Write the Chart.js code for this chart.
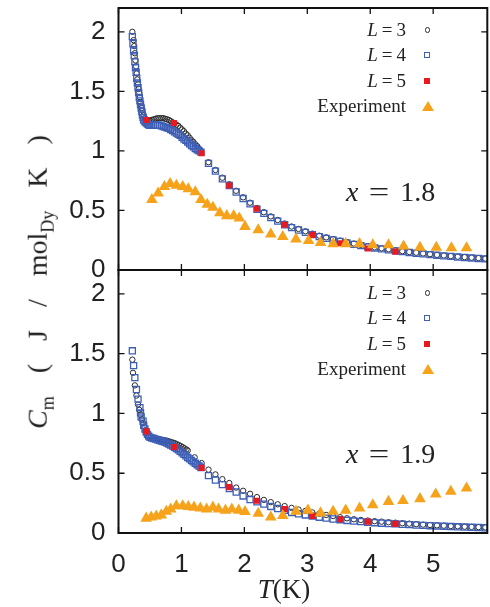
<!DOCTYPE html>
<html><head><meta charset="utf-8">
<script src="https://cdn.jsdelivr.net/npm/chart.js@4/dist/chart.umd.min.js"></script>
<style>
html,body{margin:0;padding:0;background:#fff;overflow:hidden;width:490px;height:607px;}
#wrap{position:relative;width:490px;height:607px;overflow:hidden;}
#wrap canvas{position:absolute;left:0;}
.t{position:absolute;font-family:"Liberation Serif","Times New Roman",serif;color:#222;white-space:nowrap;}
.leg{right:84px;font-size:19px;line-height:20px;height:20px;text-align:right;}
.le{display:inline-block;margin:0 4px;}
.mk{position:absolute;box-sizing:border-box;}
.ann{font-size:28px;line-height:30px;height:30px;}
.eq{display:inline-block;transform:scaleX(1.3);margin:0 13px;}
</style></head>
<body><div id="wrap">
<canvas id="cTop" width="494" height="280" style="top:0px;width:494px;height:280px"></canvas>
<canvas id="cBot" width="494" height="345" style="top:262px;width:494px;height:345px"></canvas>

<div class="t leg" style="top:20px"><i>L</i><span class="le">=</span>3</div>
<div class="t leg" style="top:45px"><i>L</i><span class="le">=</span>4</div>
<div class="t leg" style="top:71px"><i>L</i><span class="le">=</span>5</div>
<div class="t leg" style="top:96px">Experiment</div>
<div class="mk" style="left:424.5px;top:27px;width:5.5px;height:5.5px;border:1px solid #2b2b2b;border-radius:50%"></div>
<div class="mk" style="left:424.3px;top:52px;width:6px;height:6px;border:1.3px solid #3f5fb5"></div>
<div class="mk" style="left:424.3px;top:78px;width:6px;height:6px;background:#e8191f"></div>
<div class="mk" style="left:421.5px;top:101px;width:0;height:0;border-left:6px solid transparent;border-right:6px solid transparent;border-bottom:10px solid #f6a21b"></div>

<div class="t leg" style="top:283px"><i>L</i><span class="le">=</span>3</div>
<div class="t leg" style="top:308px"><i>L</i><span class="le">=</span>4</div>
<div class="t leg" style="top:334px"><i>L</i><span class="le">=</span>5</div>
<div class="t leg" style="top:359px">Experiment</div>
<div class="mk" style="left:424.5px;top:290px;width:5.5px;height:5.5px;border:1px solid #2b2b2b;border-radius:50%"></div>
<div class="mk" style="left:424.3px;top:315px;width:6px;height:6px;border:1.3px solid #3f5fb5"></div>
<div class="mk" style="left:424.3px;top:341px;width:6px;height:6px;background:#e8191f"></div>
<div class="mk" style="left:421.5px;top:364px;width:0;height:0;border-left:6px solid transparent;border-right:6px solid transparent;border-bottom:10px solid #f6a21b"></div>

<div class="t ann" style="left:346px;top:177px"><i>x</i><span class="eq">=</span>1.8</div>
<div class="t ann" style="left:346px;top:439px"><i>x</i><span class="eq">=</span>1.9</div>

<div class="t" style="left:284px;top:589px;font-size:27px;transform:translate(-50%,-50%)"><i>T</i>(K)</div>
<div class="t" style="left:40px;top:282px;font-size:28px;word-spacing:16px;transform:translate(-50%,-50%) rotate(-90deg)"><i>C</i><sub style="font-size:18px">m</sub> ( J / mol<sub style="font-size:18px">Dy</sub> K )</div>
</div>
<script>
// ---------- data ----------
const tailT = [1.43,1.54,1.65,1.76,1.87,1.98,2.09,2.20,2.31,2.42,2.53,2.64,2.75,2.86,2.97,3.08,3.19,3.30,3.41,3.52,3.63,3.74,3.85,3.96,4.07,4.18,4.29,4.40,4.51,4.62,4.73,4.84,4.95,5.06,5.17,5.28,5.39,5.50,5.61,5.72,5.83];
const l5T = [0.44,0.88,1.32,1.76,2.20,2.64,3.08,3.52,3.96,4.40];

// top panel, x = 1.8
const topL3DenseT = [0.22,0.24,0.25,0.26,0.27,0.28,0.29,0.30,0.31,0.32,0.33,0.34,0.35,0.36,0.37,0.38,0.40,0.42,0.44,0.46,0.48,0.50,0.53,0.56,0.59,0.62,0.65,0.68,0.71,0.74,0.77,0.80,0.83,0.86,0.89,0.92,0.95,0.98,1.01,1.04,1.07,1.10,1.13,1.16,1.19,1.22,1.25,1.28,1.31];
const topL3DenseC = [2.00,1.93,1.88,1.82,1.76,1.71,1.65,1.60,1.56,1.52,1.49,1.45,1.41,1.38,1.36,1.34,1.30,1.275,1.26,1.255,1.255,1.255,1.26,1.265,1.27,1.275,1.275,1.275,1.275,1.27,1.265,1.26,1.25,1.24,1.23,1.22,1.21,1.195,1.18,1.165,1.145,1.13,1.11,1.09,1.075,1.055,1.04,1.02,1.00];
const topL3TailC = [0.905,0.84,0.775,0.72,0.665,0.61,0.565,0.52,0.485,0.45,0.42,0.39,0.365,0.345,0.325,0.305,0.288,0.274,0.26,0.247,0.234,0.222,0.211,0.2,0.19,0.182,0.174,0.166,0.158,0.151,0.145,0.139,0.133,0.127,0.122,0.117,0.112,0.108,0.104,0.1,0.096];
const topL4DenseT = [0.22,0.23,0.24,0.25,0.26,0.27,0.28,0.29,0.30,0.31,0.32,0.33,0.34,0.35,0.36,0.37,0.38,0.39,0.40,0.42,0.44,0.46,0.48,0.50,0.53,0.56,0.59,0.62,0.65,0.68,0.71,0.74,0.77,0.80,0.83,0.86,0.89,0.92,0.95,0.98,1.01,1.04,1.07,1.10,1.13,1.16,1.19,1.22,1.25,1.28,1.31];
const topL4DenseC = [1.96,1.90,1.84,1.80,1.75,1.70,1.66,1.61,1.57,1.53,1.49,1.45,1.42,1.39,1.36,1.33,1.30,1.28,1.26,1.245,1.235,1.225,1.22,1.215,1.215,1.215,1.215,1.215,1.215,1.21,1.205,1.20,1.195,1.19,1.18,1.17,1.16,1.15,1.14,1.13,1.115,1.10,1.09,1.075,1.06,1.045,1.035,1.02,1.01,1.00,0.99];
const topL4TailC = [0.895,0.83,0.765,0.71,0.655,0.60,0.555,0.51,0.475,0.44,0.41,0.38,0.356,0.336,0.316,0.297,0.28,0.266,0.252,0.24,0.227,0.215,0.205,0.194,0.185,0.177,0.169,0.161,0.154,0.147,0.141,0.135,0.129,0.124,0.119,0.114,0.109,0.105,0.101,0.097,0.093];
const topL5C = [1.26,1.235,0.98,0.71,0.515,0.38,0.295,0.224,0.18,0.154];
const topExpT = [0.53,0.63,0.73,0.82,0.92,1.02,1.11,1.22,1.31,1.41,1.50,1.61,1.72,1.83,1.92,2.01,2.22,2.42,2.61,2.82,3.02,3.21,3.41,3.61,3.83,4.04,4.29,4.53,4.79,5.05,5.29,5.53];
const topExpC = [0.59,0.645,0.70,0.725,0.71,0.70,0.68,0.655,0.59,0.55,0.525,0.48,0.455,0.455,0.435,0.365,0.336,0.30,0.28,0.258,0.246,0.23,0.22,0.22,0.22,0.21,0.21,0.20,0.19,0.19,0.185,0.185];

// bottom panel, x = 1.9
const botL3DenseT = [0.22,0.23,0.26,0.285,0.31,0.33,0.35,0.37,0.39,0.41,0.43,0.45,0.48,0.51,0.54,0.57,0.60,0.63,0.66,0.69,0.72,0.75,0.78,0.81,0.84,0.87,0.90,0.93,0.96,0.99,1.02,1.05,1.08,1.10,1.21,1.32];
const botL3DenseC = [1.45,1.34,1.235,1.15,1.075,1.03,0.99,0.95,0.92,0.89,0.86,0.84,0.81,0.80,0.795,0.79,0.788,0.785,0.782,0.78,0.777,0.774,0.77,0.765,0.76,0.755,0.75,0.742,0.735,0.727,0.718,0.708,0.698,0.69,0.633,0.585];
const botL3TailC = [0.53,0.49,0.45,0.418,0.38,0.353,0.328,0.30,0.277,0.258,0.24,0.225,0.21,0.196,0.185,0.172,0.161,0.151,0.142,0.132,0.123,0.115,0.109,0.104,0.099,0.095,0.09,0.086,0.082,0.078,0.074,0.07,0.067,0.064,0.061,0.058,0.056,0.053,0.051,0.049,0.047];
const botL4DenseT = [0.22,0.24,0.26,0.285,0.31,0.34,0.35,0.36,0.39,0.40,0.42,0.44,0.46,0.48,0.50,0.53,0.56,0.59,0.62,0.65,0.68,0.71,0.74,0.77,0.80,0.83,0.86,0.89,0.92,0.95,0.98,1.01,1.04,1.07,1.10,1.13,1.16,1.19,1.22,1.25,1.28,1.31];
const botL4DenseC = [1.524,1.40,1.30,1.20,1.12,1.048,1.005,0.97,0.935,0.90,0.87,0.845,0.825,0.81,0.80,0.795,0.79,0.785,0.78,0.775,0.77,0.765,0.76,0.752,0.745,0.736,0.727,0.717,0.706,0.695,0.683,0.671,0.658,0.645,0.632,0.62,0.607,0.595,0.583,0.571,0.56,0.548];
const botL4TailC = [0.48,0.443,0.405,0.372,0.343,0.31,0.28,0.26,0.242,0.222,0.205,0.19,0.172,0.161,0.151,0.141,0.132,0.124,0.117,0.111,0.105,0.1,0.095,0.09,0.086,0.082,0.079,0.076,0.073,0.07,0.067,0.064,0.061,0.059,0.057,0.054,0.052,0.05,0.048,0.046,0.044];
const botL5C = [0.85,0.72,0.545,0.384,0.27,0.20,0.143,0.115,0.095,0.076];
const botExpT = [0.44,0.52,0.60,0.68,0.76,0.83,0.92,1.02,1.11,1.20,1.30,1.40,1.50,1.59,1.70,1.80,1.91,2.01,2.22,2.42,2.61,2.82,3.01,3.21,3.41,3.61,3.83,4.04,4.29,4.52,4.79,5.04,5.28,5.53];
const botExpC = [0.123,0.132,0.14,0.15,0.18,0.20,0.227,0.227,0.22,0.215,0.208,0.20,0.215,0.20,0.19,0.20,0.19,0.178,0.163,0.133,0.145,0.18,0.19,0.167,0.18,0.19,0.207,0.235,0.263,0.27,0.286,0.325,0.347,0.375];

const xTicks = [0,1,2,3,4,5];
const yTicks = [0,0.5,1,1.5,2];
const X_MAX = 5.86, Y_MAX = 2.2;

// ---------- helpers ----------
const pts = (T, C) => T.map((t, i) => ({x: t, y: C[i]}));

function datasets(l3, l4, l5, ex) {
  return [
    {label:'Experiment', data: ex, pointStyle:'triangle', pointRadius:6.7, backgroundColor:'#f6a21b', borderColor:'#f6a21b', borderWidth:0, order:0},
    {label:'L = 5', data: l5, pointStyle:'rect', pointRadius:4.3, backgroundColor:'#e8191f', borderColor:'#e8191f', borderWidth:0, order:1},
    {label:'L = 4', data: l4, pointStyle:'rect', pointRadius:4.3, backgroundColor:'rgba(255,255,255,0)', borderColor:'#3f5fb5', borderWidth:1.3, order:2},
    {label:'L = 3', data: l3, pointStyle:'circle', pointRadius:2.7, backgroundColor:'rgba(255,255,255,0)', borderColor:'#2b2b2b', borderWidth:1, order:3}
  ];
}

const framePlugin = {
  id: 'frame',
  afterDatasetsDraw(chart) {
    const {ctx, chartArea: a, scales} = chart;
    ctx.save();
    ctx.strokeStyle = '#111';
    ctx.lineWidth = 1.3;
    const tl = 6;
    scales.x.ticks.forEach(t => {
      const px = scales.x.getPixelForValue(t.value);
      ctx.beginPath();
      ctx.moveTo(px, a.top); ctx.lineTo(px, a.top + tl);
      ctx.moveTo(px, a.bottom); ctx.lineTo(px, a.bottom - tl);
      ctx.stroke();
    });
    scales.y.ticks.forEach(t => {
      const py = scales.y.getPixelForValue(t.value);
      ctx.beginPath();
      ctx.moveTo(a.left, py); ctx.lineTo(a.left + tl, py);
      ctx.moveTo(a.right, py); ctx.lineTo(a.right - tl, py);
      ctx.stroke();
    });
    ctx.lineWidth = 2;
    ctx.strokeRect(a.left, a.top, a.right - a.left, a.bottom - a.top);
    ctx.restore();
  }
};

const tickFont = {family: '"Liberation Sans", Arial, sans-serif', size: 26};
const noPad = s => { s.paddingTop = 0; s.paddingBottom = 0; s.paddingLeft = 0; s.paddingRight = 0; };

function makeOptions(showX) {
  return {
    responsive: false,
    animation: false,
    events: [],
    layout: {padding: {top: 8, right: 2, left: 0, bottom: showX ? 0 : 10}},
    plugins: {legend: {display: false}, tooltip: {enabled: false}},
    scales: {
      x: {
        type: 'linear', min: 0, max: X_MAX,
        grid: {display: false, drawTicks: false},
        border: {display: false},
        afterBuildTicks: s => { s.ticks = xTicks.map(v => ({value: v})); },
        ticks: {display: showX, padding: 16, font: tickFont, color: '#222', includeBounds: false,
                callback: v => String(v)},
        afterFit: s => { s.height = showX ? 74 : 0; noPad(s); }
      },
      y: {
        type: 'linear', min: 0, max: Y_MAX,
        grid: {display: false, drawTicks: false},
        border: {display: false},
        afterBuildTicks: s => { s.ticks = yTicks.map(v => ({value: v})); },
        ticks: {padding: 13, font: tickFont, color: '#222', includeBounds: false,
                callback: v => String(v)},
        afterFit: s => { s.width = 118.5; noPad(s); }
      }
    }
  };
}

new Chart(document.getElementById('cTop'), {
  type: 'scatter',
  data: {datasets: datasets(
    pts(topL3DenseT.concat(tailT), topL3DenseC.concat(topL3TailC)),
    pts(topL4DenseT.concat(tailT), topL4DenseC.concat(topL4TailC)),
    pts(l5T, topL5C),
    pts(topExpT, topExpC))},
  options: makeOptions(false),
  plugins: [framePlugin]
});

new Chart(document.getElementById('cBot'), {
  type: 'scatter',
  data: {datasets: datasets(
    pts(botL3DenseT.concat(tailT), botL3DenseC.concat(botL3TailC)),
    pts(botL4DenseT.concat(tailT), botL4DenseC.concat(botL4TailC)),
    pts(l5T, botL5C),
    pts(botExpT, botExpC))},
  options: makeOptions(true),
  plugins: [framePlugin]
});
</script>
</body></html>
